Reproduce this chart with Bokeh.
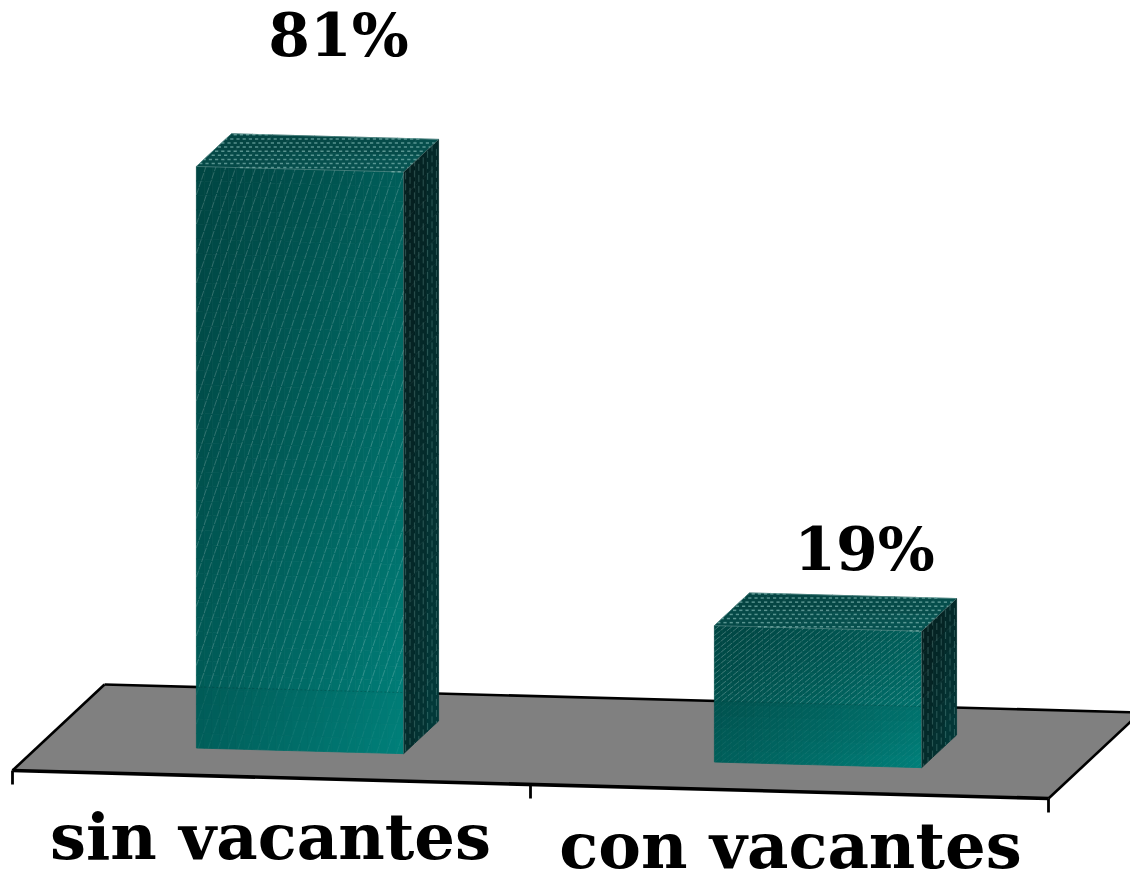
from bokeh.plotting import figure
from bokeh.models import Range1d
from bokeh.core.properties import value
from bokeh.embed import file_html
from bokeh.resources import INLINE

categories = ["sin vacantes", "con vacantes"]
values = [81, 19]
labels = ["81%", "19%"]

W, H = 1130, 878
X0, Y0 = 12, 770
UX, UY = 518, 14      # px per category along the floor
DX, DY = 92, -86      # px across the floor depth
VY = -7.18            # px per percent


def proj(x, d, v=0.0):
    return (X0 + x * UX + d * DX, Y0 + x * UY + d * DY + v * VY)


def mix(a, b, t):
    t = max(0, min(1, t))
    return tuple(a[i] + (b[i] - a[i]) * t for i in range(3))


def hx(c):
    return "#%02x%02x%02x" % tuple(int(round(k)) for k in c)


def floor_y(x):
    ax, ay = proj(0, 1)
    bx, by = proj(2, 1)
    return ay + (by - ay) * (x - ax) / (bx - ax)


def clip_segment(p0, p1, poly):
    """clip a segment to a convex polygon"""
    t0, t1 = 0.0, 1.0
    dx, dy = p1[0] - p0[0], p1[1] - p0[1]
    n = len(poly)
    area = sum(poly[i][0] * poly[(i + 1) % n][1] - poly[(i + 1) % n][0] * poly[i][1] for i in range(n))
    s = 1 if area > 0 else -1
    for i in range(n):
        a, b = poly[i], poly[(i + 1) % n]
        ex, ey = b[0] - a[0], b[1] - a[1]
        q = s * (ex * (p0[1] - a[1]) - ey * (p0[0] - a[0]))
        r = s * (ex * dy - ey * dx)
        if abs(r) < 1e-9:
            if q < 0:
                return None
            continue
        t = -q / r
        if r > 0:
            t0 = max(t0, t)
        else:
            t1 = min(t1, t)
        if t0 >= t1:
            return None
    return ((p0[0] + dx * t0, p0[1] + dy * t0), (p0[0] + dx * t1, p0[1] + dy * t1))


p = figure(width=W, height=H, output_backend="svg", toolbar_location=None,
           x_range=Range1d(0, W), y_range=Range1d(H, 0), min_border=0,
           x_axis_type=None, y_axis_type=None)
p.grid.visible = False
p.outline_line_color = None
p.background_fill_color = "white"

# floor
fl = [proj(0, 0), proj(2, 0), proj(2, 1), proj(0, 1)]
p.patch([q[0] for q in fl], [q[1] for q in fl], fill_color="#808080", line_color=None)
for a, b, w in [(proj(0, 1), proj(2, 1), 2.6), (proj(0, 0), proj(0, 1), 2.6),
                (proj(2, 0), proj(2, 1), 2.6), (proj(0, 0), proj(2, 0), 3.6)]:
    p.line([a[0], b[0]], [a[1], b[1]], line_color="black", line_width=w)
for i in range(3):
    a = proj(i, 0)
    p.line([a[0], a[0]], [a[1], a[1] + 14], line_color="black", line_width=2.8)


def shaded(quad, c0, c1, nu, nv):
    """draw a quad (tl, tr, br, bl) as small cells going from c0 (top-left) to c1 (bottom-right)"""
    xs, ys, cs = [], [], []
    tl, tr, br, bl = quad

    def pt(u, v):
        ax = tl[0] + (tr[0] - tl[0]) * u
        ay = tl[1] + (tr[1] - tl[1]) * u
        bx = bl[0] + (br[0] - bl[0]) * u
        by = bl[1] + (br[1] - bl[1]) * u
        return ax + (bx - ax) * v, ay + (by - ay) * v

    for i in range(nu):
        for j in range(nv):
            u0, u1, v0, v1 = i / nu, (i + 1) / nu, j / nv, (j + 1) / nv
            c = [pt(u0, v0), pt(u1, v0), pt(u1, v1), pt(u0, v1)]
            xs.append([q[0] for q in c])
            ys.append([q[1] for q in c])
            t = 0.5 * (u0 + u1) / 2 + 0.5 * (v0 + v1) / 2
            cs.append(hx(mix(c0, c1, t ** 1.25)))
    p.patches(xs, ys, fill_color=cs, line_color=cs, line_width=0.8)


FRONT0, FRONT1 = (0, 70, 67), (0, 128, 122)
TOP0, TOP1 = (4, 66, 64), (8, 88, 86)
SIDE0, SIDE1 = (5, 30, 30), (3, 60, 60)

for k, v in enumerate(values):
    x0, x1 = k + 0.3, k + 0.7
    d0, d1 = 0.31, 0.69
    fbl, fbr = proj(x0, d0), proj(x1, d0)
    ftl, ftr = proj(x0, d0, v), proj(x1, d0, v)
    bbr = proj(x1, d1)
    btl, btr = proj(x0, d1, v), proj(x1, d1, v)

    shaded((ftl, ftr, fbr, fbl), FRONT0, FRONT1, 26, 40 if v > 40 else 12)
    shaded((btl, btr, ftr, ftl), TOP0, TOP1, 10, 2)
    shaded((ftr, btr, bbr, fbr), SIDE0, SIDE1, 3, 24 if v > 40 else 6)

    # split of the front face at the floor's back edge
    yl, yr = floor_y(ftl[0]), floor_y(ftr[0])
    up = [ftl, ftr, (ftr[0], yr), (ftl[0], yl)]
    lo = [(ftl[0], yl), (ftr[0], yr), fbr, fbl]
    # front hatch: steep on the tall bar, shallow on the short one
    L = 1400
    if v > 40:
        sx, sy = 0.34, 1.0
        seeds = [(ftl[0] - 300 + i * 10.0, fbr[1]) for i in range(55)]
        alpha = 0.24
    else:
        sx, sy = 1.0, 0.82
        seeds = [(ftl[0], fbl[1] - i * 5.5) for i in range(-50, 40)]
        alpha = 0.3
    hi_x, hi_y, lo_x, lo_y = [], [], [], []
    for s in seeds:
        q1 = (s[0] + sx * L, s[1] - sy * L)
        c = clip_segment(s, q1, up)
        if c:
            hi_x.append([c[0][0], c[1][0]])
            hi_y.append([c[0][1], c[1][1]])
        c = clip_segment(s, q1, lo)
        if c:
            lo_x.append([c[0][0], c[1][0]])
            lo_y.append([c[0][1], c[1][1]])
    p.multi_line(hi_x, hi_y, line_color="#ffffff", line_alpha=alpha, line_width=0.8, line_dash="7 1")
    p.multi_line(lo_x, lo_y, line_color="#ffffff", line_alpha=0.08, line_width=0.8, line_dash="7 1")

    # top: rows of small dots
    top = [btl, btr, ftr, ftl]
    tx, ty = [], []
    row = 0
    yy = min(btl[1], btr[1]) + 1
    while yy < max(ftl[1], ftr[1]):
        xx = min(ftl[0], btl[0]) + (2.8 if row % 2 else 0)
        while xx < btr[0] + 1:
            c = clip_segment((xx, yy), (xx + 3.2, yy), top)
            if c:
                tx.append([c[0][0], c[1][0]])
                ty.append([c[0][1], c[1][1]])
            xx += 6.2
        yy += 4.1
        row += 1
    p.multi_line(tx, ty, line_color="#8fc4c0", line_alpha=0.6, line_width=1.5)

    # side: short vertical dashes
    side = [ftr, btr, bbr, fbr]
    sxs, sys = [], []
    col = 0
    xx = ftr[0] + 2
    while xx < btr[0]:
        yy = btr[1] + (col * 4.5) % 11
        while yy < fbr[1]:
            c = clip_segment((xx, yy), (xx, yy + 7), side)
            if c:
                sxs.append([c[0][0], c[1][0]])
                sys.append([c[0][1], c[1][1]])
            yy += 11
        xx += 4.4
        col += 1
    p.multi_line(sxs, sys, line_color="#8fc4c0", line_alpha=0.33, line_width=0.9)

    # soft light edges
    for a, b in [(btl, btr), (ftl, ftr), (ftl, btl), (ftr, btr), (ftr, fbr)]:
        p.line([a[0], b[0]], [a[1], b[1]], line_color="#8fb8b5", line_alpha=0.5, line_width=0.8)

    # the floor's edge showing faintly through the bar
    p.line([ftl[0], ftr[0], btr[0]], [yl, yr, floor_y(btr[0])], line_color="#003b39",
           line_alpha=0.45, line_width=0.8, line_dash="2 2")

# texts
p.text(x=[338, 864], y=[34, 548], text=labels, text_font=value("DejaVu Serif"),
       text_font_style="bold", text_font_size=value("60px"), text_color="black",
       text_align="center", text_baseline="middle")
p.text(x=[270, 790], y=[836, 845], text=categories, text_font=value("DejaVu Serif"),
       text_font_style="bold", text_font_size=value("64px"), text_color="black",
       text_align="center", text_baseline="middle")

open("out.html", "w").write(file_html(p, INLINE))
